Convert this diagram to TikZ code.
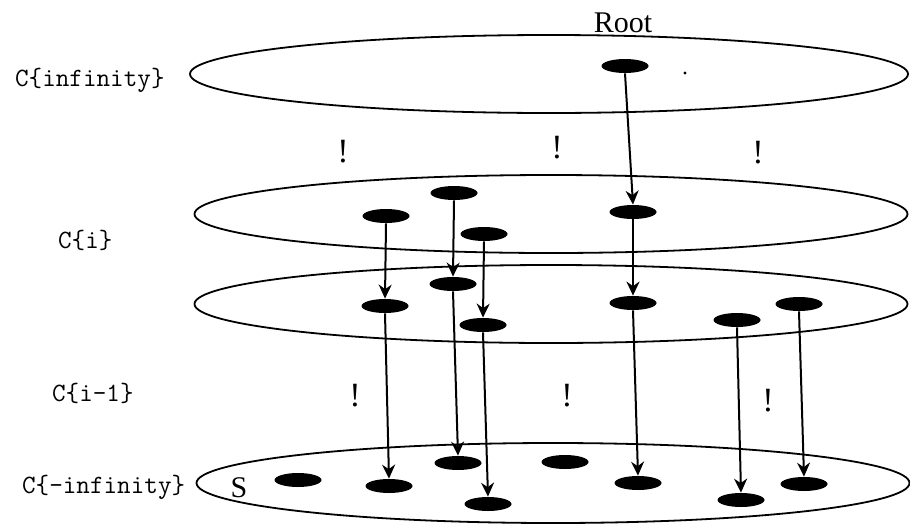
\documentclass[tikz,border=0pt]{standalone}
\usepackage{fontspec}
\setmainfont{Liberation Serif}
\usetikzlibrary{arrows.meta,shapes.geometric}

\begin{document}
\begin{tikzpicture}[
  x=0.5pt, y=-0.5pt,
  level/.style={draw, ellipse, line width=0.9pt, inner sep=0pt,
    minimum width=356.5pt, minimum height=39pt},
  blob/.style={ellipse, fill=black, inner sep=0pt,
    minimum width=23.5pt, minimum height=7pt},
  lvlname/.style={anchor=west, font=\ttfamily\fontsize{13.2}{16}\selectfont},
  bang/.style={font=\fontsize{17}{20}\selectfont, inner sep=0pt},
  arr/.style={-{Stealth[length=7pt, width=6.5pt]}, line width=1pt}
]
\useasboundingbox (0,0) rectangle (910,525);
\node[level, minimum width=359pt] (cinf) at (549,74) {};
\node[level] (ci) at (551,214) {};
\node[level] (cim) at (551,304) {};
\node[level, minimum height=40pt] (cminf) at (553,483) {};
\node[lvlname] (lblinf) at (8,80) {C\{infinity\}};
\node[lvlname] (lbli) at (51,240) {C\{i\}};
\node[lvlname] (lblim) at (45,393) {C\{i-1\}};
\node[lvlname] (lblminf) at (15,487) {C\{-infinity\}};
\node[anchor=base, font=\fontsize{15}{18}\selectfont] (rootlbl) at (623,32) {Root};
\node[anchor=base, font=\fontsize{15}{18}\selectfont] (slbl) at (239,497) {S};
\node[bang] (b1) at (343,152) {!};
\node[bang] (b2) at (557,148) {!};
\node[bang] (b3) at (758,153) {!};
\node[bang] (b4) at (355,396) {!};
\node[bang] (b5) at (567,396) {!};
\node[bang] (b6) at (768,401) {!};
\fill (685,73) circle (0.8pt);
\node[blob] (root) at (625,66) {};
\node[blob] (i1) at (386,216) {};
\node[blob] (i2) at (454,193) {};
\node[blob] (i3) at (484,234) {};
\node[blob] (i4) at (633,212) {};
\node[blob] (m1) at (385,306) {};
\node[blob] (m2) at (453,284) {};
\node[blob] (m3) at (483,325) {};
\node[blob] (m4) at (633,303) {};
\node[blob] (m5) at (737,320) {};
\node[blob] (m6) at (799,304) {};
\node[blob] (s0) at (298,480) {};
\node[blob] (s1) at (389,486) {};
\node[blob] (s2) at (458,463) {};
\node[blob] (s3) at (488,504) {};
\node[blob] (sx) at (565,462) {};
\node[blob] (s4) at (638,483) {};
\node[blob] (s5) at (741,500) {};
\node[blob] (s6) at (804,484) {};
\draw[arr] (root.south) -- (i4.north);
\draw[arr] (i1.south) -- (m1.north);
\draw[arr] (i2.south) -- (m2.north);
\draw[arr] (i3.south) -- (m3.north);
\draw[arr] (i4.south) -- (m4.north);
\draw[arr] (m1.south) -- (s1.north);
\draw[arr] (m2.south) -- (s2.north);
\draw[arr] (m3.south) -- (s3.north);
\draw[arr] (m4.south) -- (s4.north);
\draw[arr] (m5.south) -- (s5.north);
\draw[arr] (m6.south) -- (s6.north);
\end{tikzpicture}
\end{document}
